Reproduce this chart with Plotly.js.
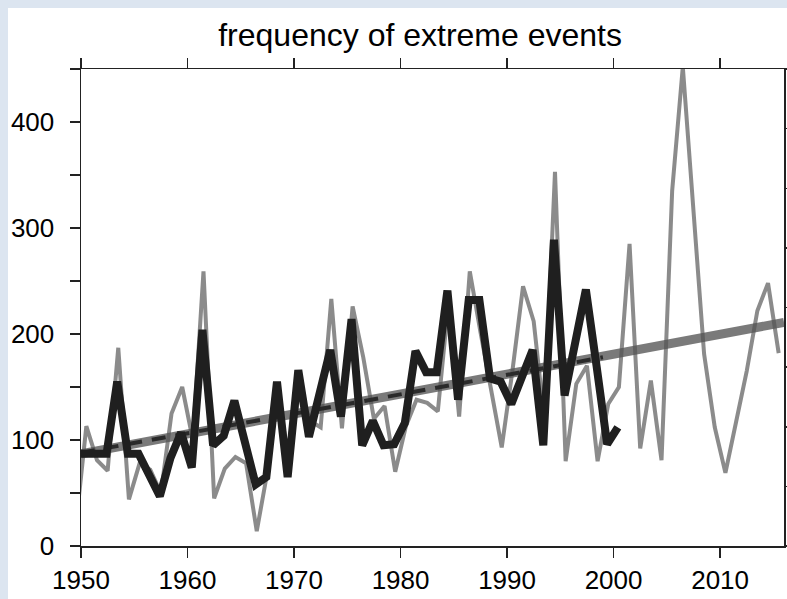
<!DOCTYPE html>
<html>
<head>
<meta charset="utf-8">
<script src="https://cdn.plot.ly/plotly-3.0.1.min.js"></script>
<style>
  html, body { margin:0; padding:0; background:#dce5f0; width:787px; height:599px; overflow:hidden; }
  #chart { position:absolute; left:8px; top:8px; width:779px; height:591px; background:#fff; }
</style>
</head>
<body>
<div id="chart"></div>
<script>
// Gray series (plotted at mid-year), first value lies just left of the axis
const grayYears = [1949,1950,1951,1952,1953,1954,1955,1956,1957,1958,1959,
  1960,1961,1962,1963,1964,1965,1966,1967,1968,1969,
  1970,1971,1972,1973,1974,1975,1976,1977,1978,1979,
  1980,1981,1982,1983,1984,1985,1986,1987,1988,1989,
  1990,1991,1992,1993,1994,1995,1996,1997,1998,1999,
  2000,2001,2002,2003,2004,2005,2006,2007,2008,2009,
  2010,2011,2012,2013,2014,2015];
const grayValues = [17,113,81,71,187,44,78,72,50,125,150,
  100,259,45,73,84,78,14,70,148,78,
  148,118,112,233,111,226,178,120,132,70,
  113,138,135,127,230,122,259,202,148,93,
  165,245,212,120,353,80,153,170,80,134,
  150,285,92,156,81,335,452,320,181,112,
  69,117,165,222,248,182];

// Black series
const blackYears = [1949,1950,1951,1952,1953,1954,1955,1956,1957,1958,1959,
  1960,1961,1962,1963,1964,1965,1966,1967,1968,1969,
  1970,1971,1972,1973,1974,1975,1976,1977,1978,1979,
  1980,1981,1982,1983,1984,1985,1986,1987,1988,1989,
  1990,1991,1992,1993,1994,1995,1996,1997,1998,1999,2000];
const blackValues = [87,87,86,87,155,87,87,68,47,83,107,
  74,204,95,104,137,97,58,65,155,65,
  166,103,143,185,122,214,95,118,95,96,
  116,184,164,164,241,138,232,232,158,155,
  134,160,185,95,289,142,192,242,170,96,112];

// Linear trends
const grayTrendYears = [1950, 2016];
const grayTrendValues = [87, 211];
const blackTrendYears = [1950, 1999];
const blackTrendValues = [88, 178];

const xTickVals = [1950,1960,1970,1980,1990,2000,2010];
const yTickVals = [0,100,200,300,400];

const grayX = grayYears.map(y => y + 0.5);
const blackX = blackYears.map(y => y + 0.4);

const traces = [
  { x: grayX, y: grayValues, type:'scatter', mode:'lines',
    line:{color:'rgba(110,110,110,0.8)', width:4}, hoverinfo:'skip' },
  { x: grayTrendYears, y: grayTrendValues, type:'scatter', mode:'lines',
    line:{color:'rgba(85,85,85,0.78)', width:9}, hoverinfo:'skip' },
  { x: blackTrendYears, y: blackTrendValues, type:'scatter', mode:'lines',
    line:{color:'#2a2a2a', width:4, dash:'14px,10px'}, hoverinfo:'skip' },
  { x: blackX, y: blackValues, type:'scatter', mode:'lines',
    line:{color:'#1f1f1f', width:8, shape:'linear'}, hoverinfo:'skip' },
  { x:[null], y:[null], yaxis:'y2', type:'scatter', mode:'lines', hoverinfo:'skip' }
];

const font = {family:'"Liberation Sans", Arial, Helvetica, sans-serif', color:'#000'};

const layout = {
  width:779, height:591,
  margin:{l:73, r:3, t:61, b:53},
  paper_bgcolor:'#ffffff', plot_bgcolor:'#ffffff',
  showlegend:false,
  font: font,
  title:{text:'frequency of extreme events',
    font:{family:font.family, size:32, color:'#000'},
    x:0.529, xref:'container', xanchor:'center',
    y:1-27/591, yref:'container', yanchor:'middle'},
  xaxis:{range:[1950,2016], tickvals:xTickVals, ticktext:xTickVals.map(String),
    ticks:'outside', ticklen:10, tickwidth:1.5, tickcolor:'#222',
    showline:true, linecolor:'#222', linewidth:1.5, mirror:'allticks',
    showgrid:false, zeroline:false, tickfont:{size:26, family:font.family, color:'#000'}},
  yaxis:{range:[0,450], tickvals:yTickVals, ticktext:yTickVals.map(String),
    ticks:'outside', ticklen:10, tickwidth:1.5, tickcolor:'#222',
    ticklabelstandoff:10,
    minor:{dtick:50, tick0:0, ticks:'outside', ticklen:10, tickwidth:1.5, tickcolor:'#222', showgrid:false},
    showline:true, linecolor:'#222', linewidth:1.5, mirror:true,
    showgrid:false, zeroline:false, tickfont:{size:26, family:font.family, color:'#000'}},
  yaxis2:{overlaying:'y', side:'right', range:[0,8], dtick:1, tick0:0,
    ticks:'outside', ticklen:10, tickwidth:1.5, tickcolor:'#222',
    showticklabels:false, showgrid:false, zeroline:false, showline:false}
};

Plotly.newPlot('chart', traces, layout, {staticPlot:true, displayModeBar:false});
</script>
</body>
</html>
